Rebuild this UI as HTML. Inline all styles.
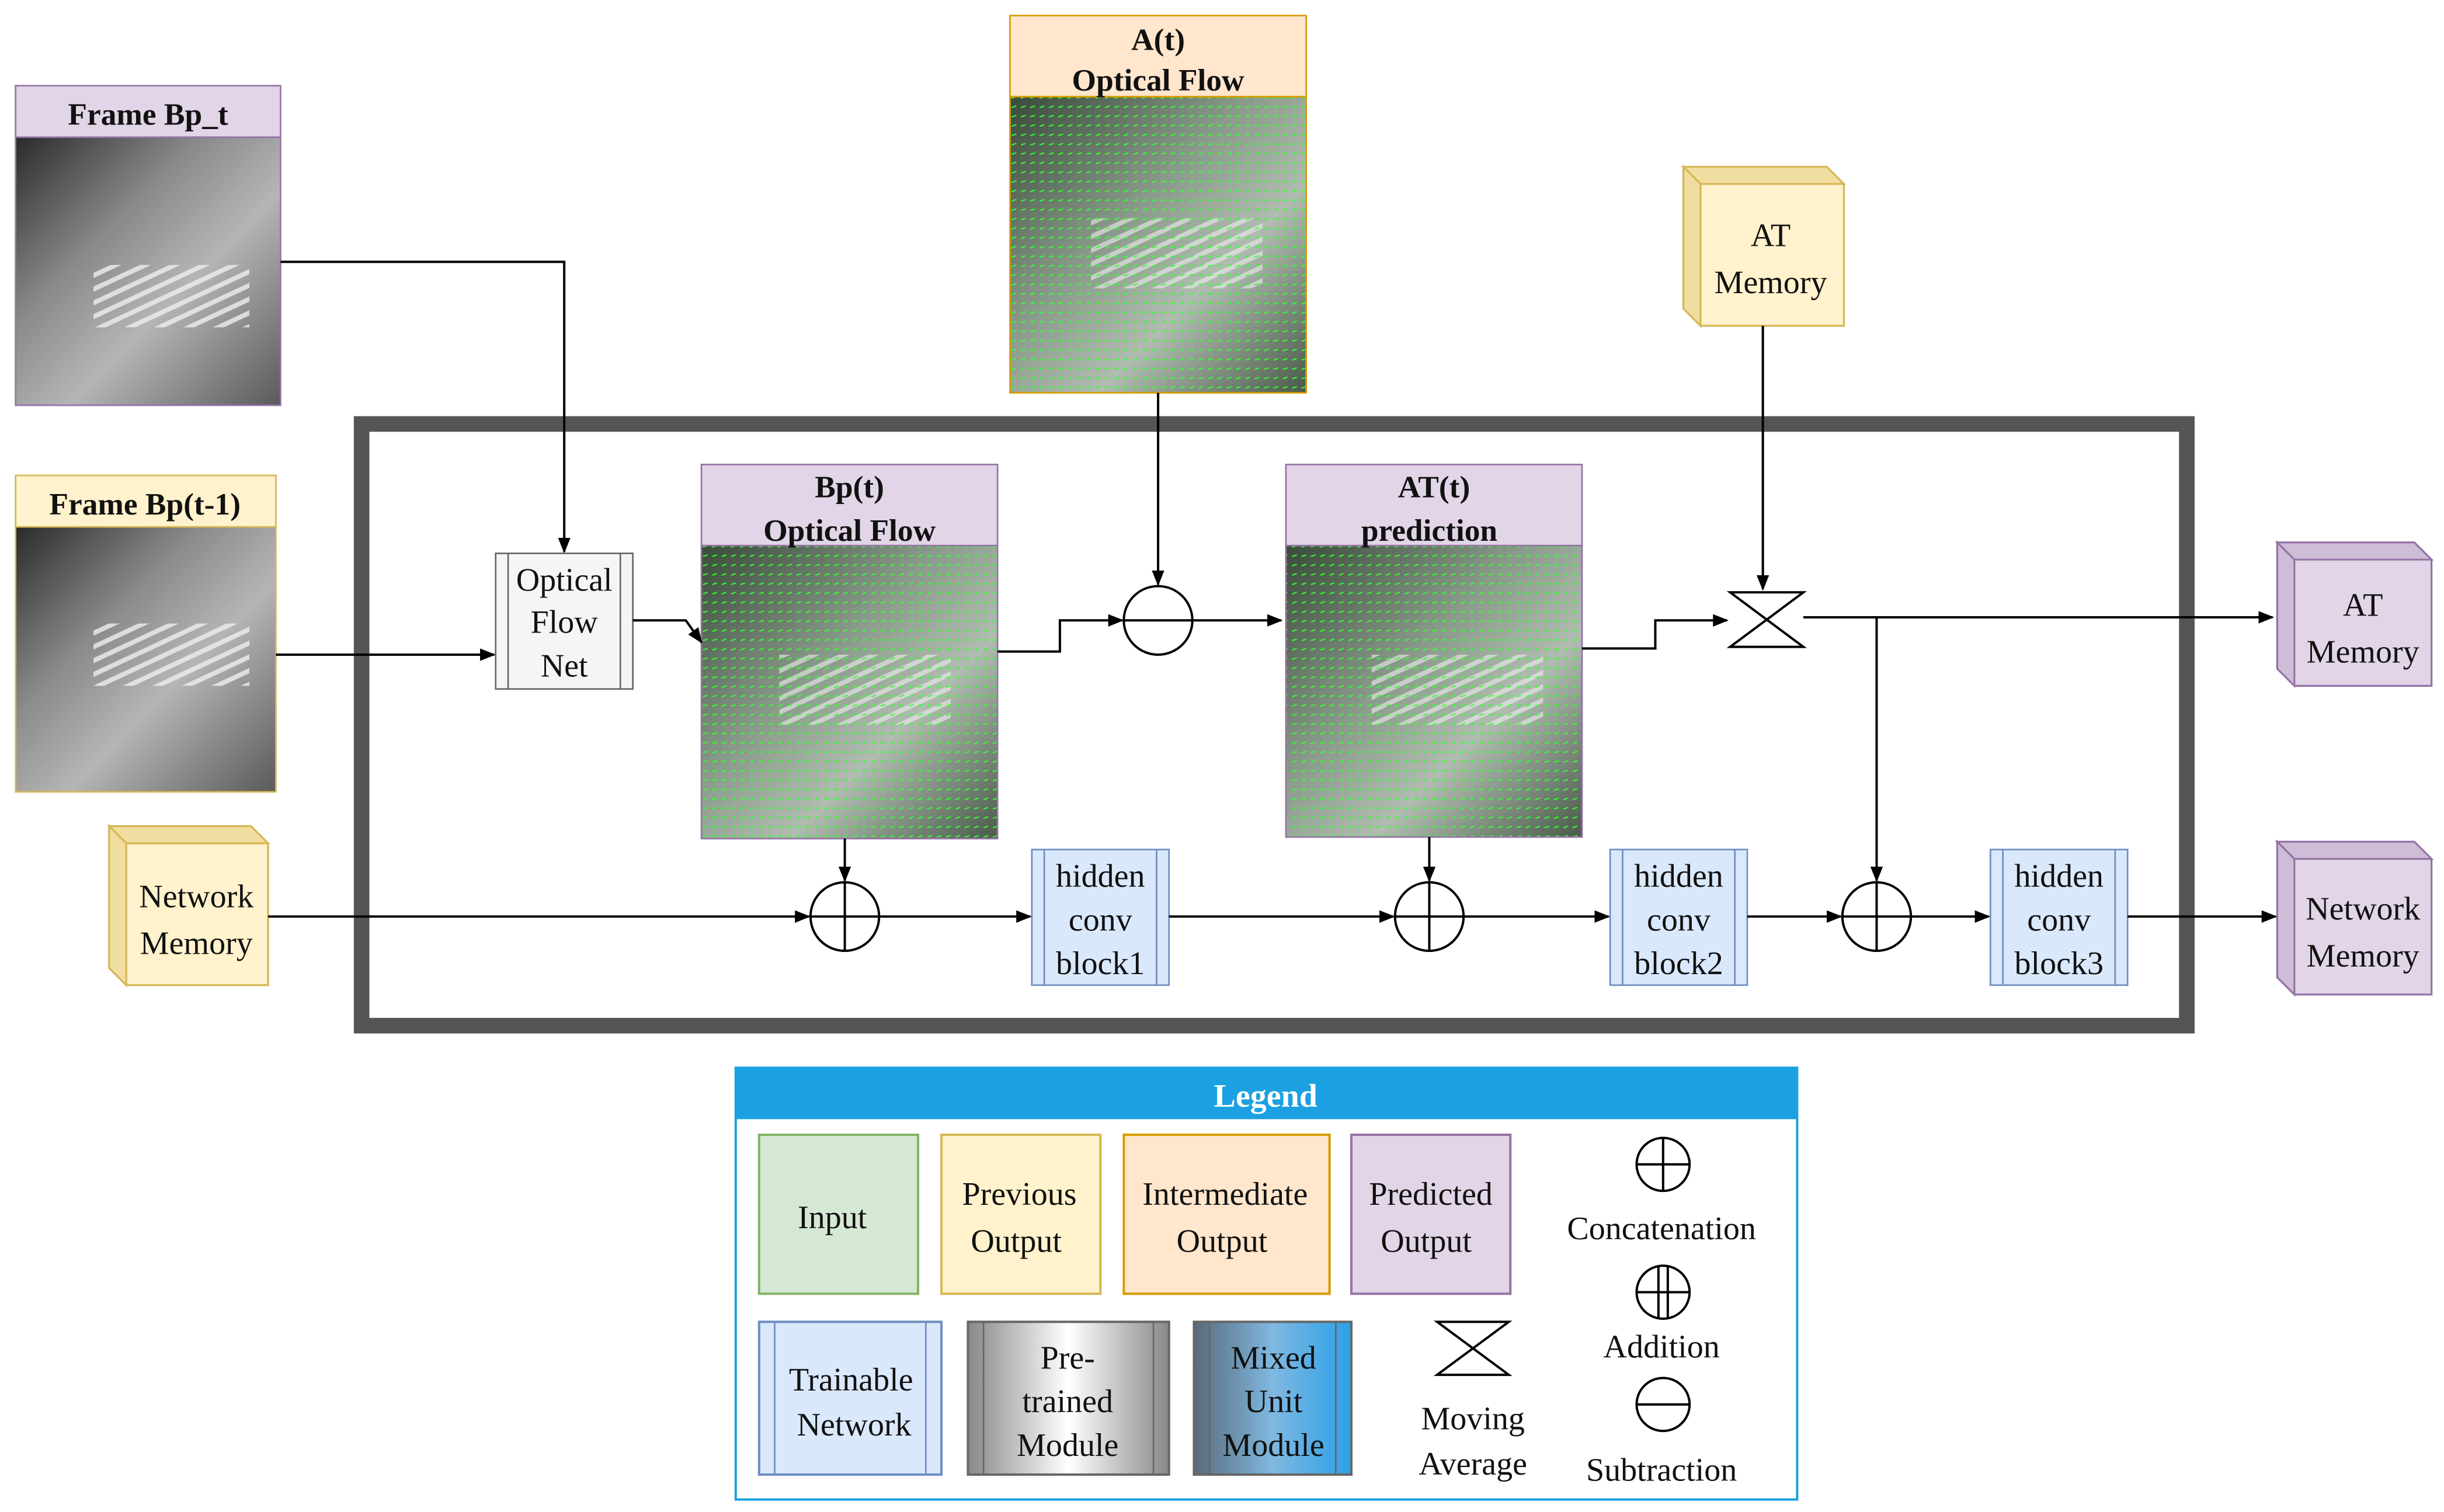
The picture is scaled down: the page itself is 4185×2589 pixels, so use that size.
<!DOCTYPE html>
<html><head><meta charset="utf-8"><style>
html,body{margin:0;padding:0;background:#fff}
svg{display:block}
text{font-family:"Liberation Serif",serif;fill:#111}
</style></head><body>
<svg width="4185" height="2589" viewBox="0 0 1568 970" preserveAspectRatio="none" xmlns="http://www.w3.org/2000/svg">
<defs>
<marker id="a" markerWidth="10" markerHeight="10" refX="9" refY="5" orient="auto" markerUnits="userSpaceOnUse"><path d="M0,1 L10,5 L0,9 Z" fill="#000"/></marker>
<linearGradient id="photo" x1="0" y1="0" x2="1" y2="1">
<stop offset="0" stop-color="#2a2a2a"/><stop offset="0.35" stop-color="#8a8a8a"/><stop offset="0.6" stop-color="#b5b5b5"/><stop offset="1" stop-color="#5a5a5a"/></linearGradient>
<linearGradient id="photo2" x1="0" y1="0" x2="1" y2="1">
<stop offset="0" stop-color="#3a4a3a"/><stop offset="0.4" stop-color="#8a9a8a"/><stop offset="0.65" stop-color="#b0bcb0"/><stop offset="1" stop-color="#4a5a4a"/></linearGradient>
<pattern id="flow" width="6" height="6" patternUnits="userSpaceOnUse"><path d="M1,3 L4,2" stroke="#3f3" stroke-width="0.8"/></pattern>
<pattern id="cross" width="14" height="8" patternUnits="userSpaceOnUse" patternTransform="rotate(-25)"><rect width="14" height="3" fill="#eee"/></pattern>
<linearGradient id="pre" x1="0" x2="1"><stop offset="0" stop-color="#888"/><stop offset="0.5" stop-color="#fff"/><stop offset="1" stop-color="#888"/></linearGradient>
<linearGradient id="mix" x1="0" x2="1"><stop offset="0" stop-color="#5a6a7a"/><stop offset="0.5" stop-color="#7fb8e0"/><stop offset="1" stop-color="#2aa0e8"/></linearGradient>
</defs>

<!-- photos -->
<g>
<rect x="10" y="88" width="170" height="172" fill="url(#photo)"/>
<rect x="60" y="170" width="100" height="40" fill="url(#cross)" opacity="0.8"/>
<rect x="10" y="338" width="167" height="170" fill="url(#photo)"/>
<rect x="60" y="400" width="100" height="40" fill="url(#cross)" opacity="0.8"/>
<rect x="648" y="62" width="190" height="190" fill="url(#photo2)"/>
<rect x="700" y="140" width="110" height="45" fill="url(#cross)" opacity="0.6"/>
<rect x="648" y="62" width="190" height="190" fill="url(#flow)"/>
<rect x="450" y="350" width="190" height="188" fill="url(#photo2)"/>
<rect x="500" y="420" width="110" height="45" fill="url(#cross)" opacity="0.6"/>
<rect x="450" y="350" width="190" height="188" fill="url(#flow)"/>
<rect x="825" y="350" width="190" height="187" fill="url(#photo2)"/>
<rect x="880" y="420" width="110" height="45" fill="url(#cross)" opacity="0.6"/>
<rect x="825" y="350" width="190" height="187" fill="url(#flow)"/>
</g>
<rect x="10" y="88" width="170" height="172" fill="none" stroke="#9673a6"/>
<rect x="10" y="338" width="167" height="170" fill="none" stroke="#d6b656"/>
<rect x="648" y="62" width="190" height="190" fill="none" stroke="#d79b00"/>
<rect x="450" y="350" width="190" height="188" fill="none" stroke="#9673a6"/>
<rect x="825" y="350" width="190" height="187" fill="none" stroke="#9673a6"/>

<!-- headers -->
<rect x="10" y="55" width="170" height="33" fill="#e1d5e7" stroke="#9673a6"/>
<text x="95" y="80" text-anchor="middle" font-weight="bold" font-size="20">Frame Bp_t</text>
<rect x="10" y="305" width="167" height="33" fill="#fff2cc" stroke="#d6b656"/>
<text x="93" y="330" text-anchor="middle" font-weight="bold" font-size="20">Frame Bp(t-1)</text>
<rect x="648" y="10" width="190" height="52" fill="#ffe6cc" stroke="#d79b00"/>
<text x="743" y="32" text-anchor="middle" font-weight="bold" font-size="20">A(t)</text>
<text x="743" y="58" text-anchor="middle" font-weight="bold" font-size="20">Optical Flow</text>
<rect x="450" y="298" width="190" height="52" fill="#e1d5e7" stroke="#9673a6"/>
<text x="545" y="319" text-anchor="middle" font-weight="bold" font-size="20">Bp(t)</text>
<text x="545" y="347" text-anchor="middle" font-weight="bold" font-size="20">Optical Flow</text>
<rect x="825" y="298" width="190" height="52" fill="#e1d5e7" stroke="#9673a6"/>
<text x="920" y="319" text-anchor="middle" font-weight="bold" font-size="20">AT(t)</text>
<text x="917" y="347" text-anchor="middle" font-weight="bold" font-size="20">prediction</text>

<!-- big frame -->
<rect x="232" y="272" width="1171" height="386" fill="none" stroke="#555" stroke-width="10"/>

<!-- cubes -->
<g stroke="#d6b656" stroke-width="1.2">
<polygon points="1080,107 1172,107 1183,118 1183,209 1091,209 1080,198" fill="#fff2cc"/>
<polygon points="1080,107 1172,107 1183,118 1091,118" fill="#f0dea0"/>
<polygon points="1080,107 1091,118 1091,209 1080,198" fill="#f0dea0"/>
<polygon points="70,530 161,530 172,541 172,632 81,632 70,621" fill="#fff2cc"/>
<polygon points="70,530 161,530 172,541 81,541" fill="#f0dea0"/>
<polygon points="70,530 81,541 81,632 70,621" fill="#f0dea0"/>
</g>
<g stroke="#9673a6" stroke-width="1.2">
<polygon points="1461,348 1549,348 1560,359 1560,440 1472,440 1461,429" fill="#e1d5e7"/>
<polygon points="1461,348 1549,348 1560,359 1472,359" fill="#cdbdd6"/>
<polygon points="1461,348 1472,359 1472,440 1461,429" fill="#cdbdd6"/>
<polygon points="1461,540 1549,540 1560,551 1560,638 1472,638 1461,627" fill="#e1d5e7"/>
<polygon points="1461,540 1549,540 1560,551 1472,551" fill="#cdbdd6"/>
<polygon points="1461,540 1472,551 1472,638 1461,627" fill="#cdbdd6"/>
</g>
<g font-size="21" text-anchor="middle">
<text x="1136" y="158">AT</text><text x="1136" y="188">Memory</text>
<text x="126" y="582">Network</text><text x="126" y="612">Memory</text>
<text x="1516" y="395">AT</text><text x="1516" y="425">Memory</text>
<text x="1516" y="590">Network</text><text x="1516" y="620">Memory</text>
</g>

<!-- Optical flow net -->
<rect x="318" y="355" width="88" height="87" fill="#f5f5f5" stroke="#666"/>
<line x1="326" y1="355" x2="326" y2="442" stroke="#666"/><line x1="398" y1="355" x2="398" y2="442" stroke="#666"/>
<g font-size="21" text-anchor="middle"><text x="362" y="379">Optical</text><text x="362" y="406">Flow</text><text x="362" y="434">Net</text></g>

<!-- hidden conv blocks -->
<g stroke="#6c8ebf" fill="#dae8fc">
<rect x="662" y="545" width="88" height="87"/><rect x="1033" y="545" width="88" height="87"/><rect x="1277" y="545" width="88" height="87"/>
</g>
<g stroke="#6c8ebf">
<line x1="670" y1="545" x2="670" y2="632"/><line x1="742" y1="545" x2="742" y2="632"/>
<line x1="1041" y1="545" x2="1041" y2="632"/><line x1="1113" y1="545" x2="1113" y2="632"/>
<line x1="1285" y1="545" x2="1285" y2="632"/><line x1="1357" y1="545" x2="1357" y2="632"/>
</g>
<g font-size="21" text-anchor="middle">
<text x="706" y="569">hidden</text><text x="706" y="597">conv</text><text x="706" y="625">block1</text>
<text x="1077" y="569">hidden</text><text x="1077" y="597">conv</text><text x="1077" y="625">block2</text>
<text x="1321" y="569">hidden</text><text x="1321" y="597">conv</text><text x="1321" y="625">block3</text>
</g>

<!-- operators -->
<g fill="#fff" stroke="#000" stroke-width="1.5">
<circle cx="743" cy="398" r="22"/><line x1="721" y1="398" x2="765" y2="398"/>
<circle cx="542" cy="588" r="22"/><line x1="520" y1="588" x2="564" y2="588"/><line x1="542" y1="566" x2="542" y2="610"/>
<circle cx="917" cy="588" r="22"/><line x1="895" y1="588" x2="939" y2="588"/><line x1="917" y1="566" x2="917" y2="610"/>
<circle cx="1204" cy="588" r="22"/><line x1="1182" y1="588" x2="1226" y2="588"/><line x1="1204" y1="566" x2="1204" y2="610"/>
<polygon points="1110,380 1157,380 1110,415 1157,415"/>
</g>

<!-- connectors -->
<g fill="none" stroke="#000" stroke-width="1.5" marker-end="url(#a)">
<polyline points="180,168 362,168 362,354"/>
<polyline points="177,420 317,420"/>
<polyline points="406,398 440,398 450,412"/>
<polyline points="640,418 680,418 680,398 720,398"/>
<polyline points="743,252 743,375"/>
<polyline points="765,398 822,398"/>
<polyline points="1015,416 1062,416 1062,398 1108,398"/>
<polyline points="1131,209 1131,378"/>
<polyline points="1157,396 1458,396"/>
<polyline points="1204,396 1204,565"/>
<polyline points="172,588 519,588"/>
<polyline points="542,538 542,565"/>
<polyline points="564,588 661,588"/>
<polyline points="750,588 894,588"/>
<polyline points="917,537 917,565"/>
<polyline points="939,588 1032,588"/>
<polyline points="1121,588 1181,588"/>
<polyline points="1226,588 1276,588"/>
<polyline points="1365,588 1460,588"/>
</g>

<!-- legend -->
<rect x="472" y="685" width="681" height="277" fill="#fff" stroke="#1ba1e2" stroke-width="1.5"/>
<rect x="472" y="685" width="681" height="33" fill="#1ba1e2"/>
<text x="812" y="710" text-anchor="middle" font-weight="bold" font-size="21" style="fill:#fff">Legend</text>
<rect x="487" y="728" width="102" height="102" fill="#d5e8d4" stroke="#82b366" stroke-width="1.5"/>
<rect x="604" y="728" width="102" height="102" fill="#fff2cc" stroke="#d6b656" stroke-width="1.5"/>
<rect x="721" y="728" width="132" height="102" fill="#ffe6cc" stroke="#d79b00" stroke-width="1.5"/>
<rect x="867" y="728" width="102" height="102" fill="#e1d5e7" stroke="#9673a6" stroke-width="1.5"/>
<rect x="487" y="848" width="117" height="98" fill="#dae8fc" stroke="#6c8ebf" stroke-width="1.5"/>
<line x1="497" y1="848" x2="497" y2="946" stroke="#6c8ebf"/><line x1="594" y1="848" x2="594" y2="946" stroke="#6c8ebf"/>
<rect x="621" y="848" width="129" height="98" fill="url(#pre)" stroke="#666" stroke-width="1.5"/>
<line x1="631" y1="848" x2="631" y2="946" stroke="#666"/><line x1="740" y1="848" x2="740" y2="946" stroke="#666"/>
<rect x="766" y="848" width="101" height="98" fill="url(#mix)" stroke="#666" stroke-width="1.5"/>
<line x1="776" y1="848" x2="776" y2="946" stroke="#666"/><line x1="857" y1="848" x2="857" y2="946" stroke="#666"/>
<g font-size="21" text-anchor="middle">
<text x="534" y="788">Input</text>
<text x="654" y="773">Previous</text><text x="652" y="803">Output</text>
<text x="786" y="773">Intermediate</text><text x="784" y="803">Output</text>
<text x="918" y="773">Predicted</text><text x="915" y="803">Output</text>
<text x="546" y="892">Trainable</text><text x="548" y="921">Network</text>
<text x="685" y="878">Pre-</text><text x="685" y="906">trained</text><text x="685" y="934">Module</text>
<text x="817" y="878">Mixed</text><text x="817" y="906">Unit</text><text x="817" y="934">Module</text>
<text x="945" y="917">Moving</text><text x="945" y="946">Average</text>
<text x="1066" y="795">Concatenation</text>
<text x="1066" y="871">Addition</text>
<text x="1066" y="950">Subtraction</text>
</g>
<g fill="#fff" stroke="#000" stroke-width="1.5">
<polygon points="922,848 968,848 922,882 968,882"/>
<circle cx="1067" cy="747" r="17"/><line x1="1050" y1="747" x2="1084" y2="747"/><line x1="1067" y1="730" x2="1067" y2="764"/>
<circle cx="1067" cy="829" r="17"/><line x1="1050" y1="829" x2="1084" y2="829"/><line x1="1064" y1="812" x2="1064" y2="846"/><line x1="1070" y1="812" x2="1070" y2="846"/>
<circle cx="1067" cy="901" r="17"/><line x1="1050" y1="901" x2="1084" y2="901"/>
</g>
</svg>
</body></html>
